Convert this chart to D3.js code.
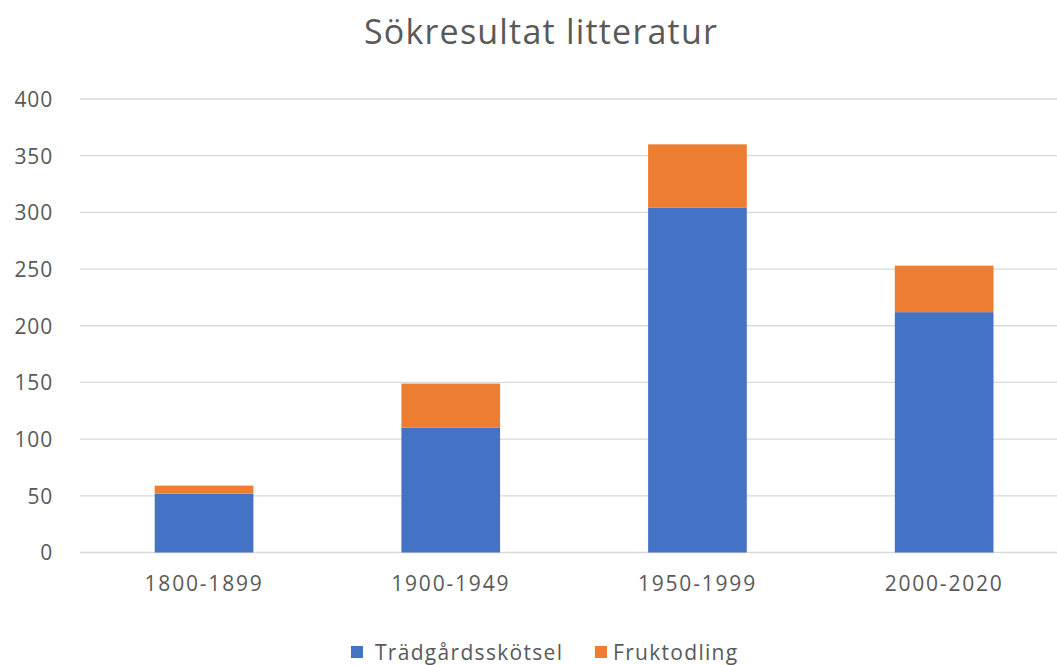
<!DOCTYPE html>
<html><head><meta charset="utf-8">
<script src="https://cdn.jsdelivr.net/npm/d3@7"></script>
<style>body{margin:0;background:#fff}svg{display:block}</style>
</head><body>
<svg id="c" width="1057" height="665"></svg>
<script>
const title = "Sökresultat litteratur";
const categories = ["1800-1899", "1900-1949", "1950-1999", "2000-2020"];
const seriesNames = ["Trädgårdsskötsel", "Fruktodling"];
const tradgard = [52, 110, 304, 212];
const frukt = [7, 39, 56, 41];
const yTicks = [0, 50, 100, 150, 200, 250, 300, 350, 400];
const colors = ["#4472C4", "#ED7D31"];

const svg = d3.select("#c");
const font = "'Open Sans', sans-serif";
const textColor = "#595959";

const x = d3.scaleBand().domain(categories).range([80.7, 1067.5]).paddingInner(0.6).paddingOuter(0.3);
const y = d3.scaleLinear().domain([0, 400]).range([552.5, 99]);

// gridlines
svg.append("g").selectAll("line").data(yTicks).join("line")
  .attr("x1", 80).attr("x2", 1057)
  .attr("y1", d => y(d)).attr("y2", d => y(d))
  .attr("stroke", "#d9d9d9").attr("stroke-width", 1.3);

// y axis labels
const yAxis = svg.append("g").attr("transform", "translate(53,0)")
  .call(d3.axisLeft(y).tickValues(yTicks).tickSize(0).tickPadding(0));
yAxis.select(".domain").remove();
yAxis.selectAll("text").attr("font-family", font).attr("font-size", 21)
  .attr("fill", textColor).attr("letter-spacing", 0.8).attr("dy", "0.35em");

// stacked bars
const rows = categories.map((c, i) => ({cat: c, t: tradgard[i], f: frukt[i]}));
const stack = d3.stack().keys(["t", "f"])(rows);
svg.append("g").selectAll("g").data(stack).join("g")
  .attr("fill", (d, i) => colors[i])
  .selectAll("rect").data(d => d).join("rect")
  .attr("x", d => x(d.data.cat))
  .attr("width", x.bandwidth())
  .attr("y", d => y(d[1]))
  .attr("height", d => y(d[0]) - y(d[1]));

// x axis labels
const xAxis = svg.append("g").attr("transform", "translate(0,574)")
  .call(d3.axisBottom(x).tickSize(0).tickPadding(0));
xAxis.select(".domain").remove();
xAxis.selectAll("text").attr("font-family", font).attr("font-size", 21)
  .attr("fill", textColor).attr("letter-spacing", 1.8).attr("dy", "0.8em");

// title
svg.append("text").attr("x", 541).attr("y", 44).attr("text-anchor", "middle")
  .attr("font-family", font).attr("font-size", 34).attr("fill", textColor)
  .attr("letter-spacing", 1.2)
  .text(title);

// legend
const legendX = [351, 595];
const lg = svg.append("g").selectAll("g").data(seriesNames).join("g")
  .attr("transform", (d, i) => `translate(${legendX[i]},646)`);
lg.append("rect").attr("width", 12).attr("height", 12).attr("fill", (d, i) => colors[i]);
lg.append("text").attr("x", (d, i) => i === 0 ? 24 : 18).attr("y", 14)
  .attr("font-family", font).attr("font-size", 21).attr("fill", textColor)
  .attr("letter-spacing", 1.3)
  .text(d => d);
</script>
</body></html>
